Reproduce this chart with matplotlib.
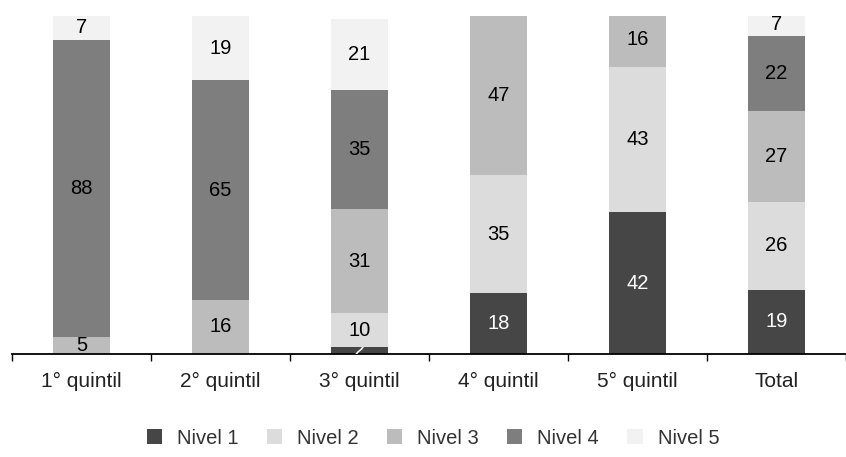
import numpy as np
import matplotlib
matplotlib.use("Agg")
import matplotlib.pyplot as plt
from matplotlib.transforms import TransformedBbox

plt.rcParams['font.family'] = ['Liberation Sans', 'DejaVu Sans']

categorias = ['1° quintil', '2° quintil', '3° quintil', '4° quintil', '5° quintil', 'Total']
niveles = ['Nivel 1', 'Nivel 2', 'Nivel 3', 'Nivel 4', 'Nivel 5']

nivel1 = [0, 0, 2, 18, 42, 19]
nivel2 = [0, 0, 10, 35, 43, 26]
nivel3 = [5, 16, 31, 47, 16, 27]
nivel4 = [88, 65, 35, 0, 0, 22]
nivel5 = [7, 19, 21, 0, 0, 7]

colores = ['#464646', '#dcdcdc', '#bcbcbc', '#7e7e7e', '#f2f2f2']
color_texto = ['white', 'black', 'black', 'black', 'black']

series = [nivel1, nivel2, nivel3, nivel4, nivel5]

fig = plt.figure(figsize=(8.46, 4.57), dpi=100)
ax = fig.add_axes([12 / 846, 1 - 354 / 457, 1 - 12 / 846, (354 - 16) / 457])

x = np.arange(len(categorias))
base = np.zeros(len(categorias))
for i, vals in enumerate(series):
    vals = np.array(vals, dtype=float)
    barras = ax.bar(x, vals, bottom=base, width=0.41, color=colores[i], label=niveles[i],
                    edgecolor='none')
    for rect, xi, v, b in zip(barras, x, vals, base):
        if v > 0:
            t = ax.text(xi, b + v / 2, str(int(v)), ha='center', va='center',
                        fontsize=14.5, color=color_texto[i])
            if v < 4:
                # etiqueta que no cabe: solo se ve dentro de la barra
                t.set_clip_on(True)
                t.set_clip_box(TransformedBbox(rect.get_bbox(), ax.transData))
    base = base + vals

ax.set_xlim(-0.5, 5.46)
ax.set_ylim(0, 100)
for s in ['top', 'right', 'left']:
    ax.spines[s].set_visible(False)
ax.spines['bottom'].set_linewidth(1.3)
ax.set_yticks([])
ax.set_xticks(x)
ax.set_xticklabels(categorias, fontsize=15, color='#222222')
ax.tick_params(axis='x', which='major', length=0, pad=13)
ax.set_xticks(np.arange(-0.5, 6, 1), minor=True)
ax.tick_params(axis='x', which='minor', length=5, width=1, direction='out')

leg = fig.legend(loc='center', bbox_to_anchor=(0.512, 1 - 438 / 457), ncol=5,
                 frameon=False, fontsize=14.5, handlelength=0.75, handleheight=0.75,
                 columnspacing=1.4, handletextpad=0.75)
for t in leg.get_texts():
    t.set_color('#333333')

fig.savefig('out.png', dpi=100)
